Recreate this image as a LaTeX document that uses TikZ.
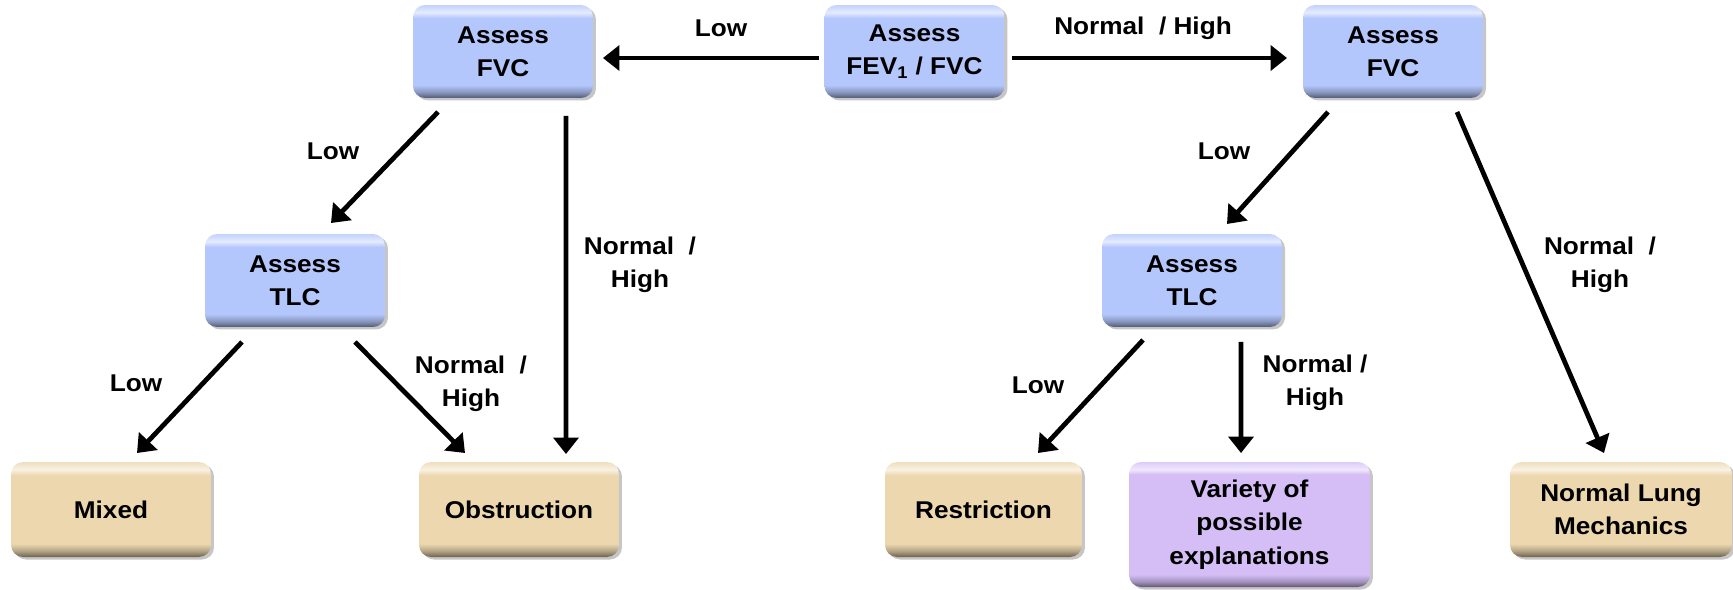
\documentclass[tikz,border=0pt]{standalone}
\usepackage{fontspec}
\setmainfont[FakeStretch=1.08]{Liberation Sans}
\usetikzlibrary{arrows.meta,shadows}

\definecolor{assessblue}{RGB}{180,199,252}
\definecolor{resulttan}{RGB}{236,215,175}
\definecolor{othviolet}{RGB}{212,190,245}

% bevel look: dark lower rim, flat face, light upper rim
\pgfdeclareverticalshading{bevelblue}{100bp}{color(0bp)=(assessblue!45!black); color(25bp)=(assessblue!45!black); color(28bp)=(assessblue!75!black); color(32bp)=(assessblue); color(68bp)=(assessblue); color(71bp)=(assessblue!35!white); color(75bp)=(assessblue!80!white); color(100bp)=(assessblue!80!white)}
\pgfdeclareverticalshading{beveltan}{100bp}{color(0bp)=(resulttan!45!black); color(25bp)=(resulttan!45!black); color(28bp)=(resulttan!75!black); color(32bp)=(resulttan); color(68bp)=(resulttan); color(71bp)=(resulttan!35!white); color(75bp)=(resulttan!80!white); color(100bp)=(resulttan!80!white)}
\pgfdeclareverticalshading{bevelviolet}{100bp}{color(0bp)=(othviolet!45!black); color(25bp)=(othviolet!45!black); color(27bp)=(othviolet!75!black); color(30bp)=(othviolet); color(70bp)=(othviolet); color(72bp)=(othviolet!35!white); color(75bp)=(othviolet!80!white); color(100bp)=(othviolet!80!white)}

\tikzset{
	box/.style={rounded corners=0.24cm, align=center, inner sep=2pt, outer sep=0pt,
		drop shadow={shadow xshift=0.06cm, shadow yshift=-0.05cm, opacity=0.45}},
	assess/.style={box, shading=bevelblue, minimum width=3.6cm, minimum height=1.86cm},
	result/.style={box, shading=beveltan, minimum width=4cm, minimum height=1.9cm},
	other/.style={box, shading=bevelviolet, minimum width=4.82cm, minimum height=2.5cm},
	lbl/.style={align=center},
	conn/.style={line width=0.095cm, -{Triangle[length=0.33cm,width=0.5cm]}},
}

\begin{document}
\begin{tikzpicture}[x=0.02cm, y=-0.02cm, every node/.style={font=\fontsize{13.8}{19}\selectfont\bfseries}]
	\useasboundingbox (0,0) rectangle (1733,589);
	% boxes
	\node[assess] (fev) at (914.5,51.5) {Assess\\FEV\textsubscript{1} / FVC};
	\node[assess] (fvcL) at (503,51.5) {Assess\\FVC};
	\node[assess] (fvcR) at (1393,51.5) {Assess\\FVC};
	\node[assess] (tlcL) at (295,280.5) {Assess\\TLC};
	\node[assess] (tlcR) at (1192,280.5) {Assess\\TLC};
	\node[result] (mixed) at (111,509.5) {Mixed};
	\node[result] (obstr) at (519,509.5) {Obstruction};
	\node[result, minimum width=3.94cm] (restr) at (983.5,509.5) {Restriction};
	\node[other] (variety) at (1249.5,524.5) {Variety of\\possible\\explanations};
	\node[result, minimum width=4.44cm] (normal) at (1621,509.5) {Normal Lung\\Mechanics};
	% connectors
	\draw[conn] ([xshift=-0.11cm,yshift=-0.13cm]fev.west) -- ([xshift=0.2cm,yshift=-0.13cm]fvcL.east);
	\draw[conn] ([xshift=0.15cm,yshift=-0.13cm]fev.east) -- ([xshift=-0.32cm,yshift=-0.13cm]fvcR.west);
	\draw[conn] ([xshift=-1.3cm,yshift=-0.28cm]fvcL.south) -- ([xshift=0.72cm,yshift=0.22cm]tlcL.north);
	\draw[conn] ([xshift=1.26cm,yshift=-0.36cm]fvcL.south) -- ([xshift=0.94cm,yshift=0.16cm]obstr.north);
	\draw[conn] ([xshift=-1.3cm,yshift=-0.28cm]fvcR.south) -- ([xshift=0.7cm,yshift=0.2cm]tlcR.north);
	\draw[conn] ([xshift=1.28cm,yshift=-0.28cm]fvcR.south) -- ([xshift=-0.34cm,yshift=0.18cm]normal.north);
	\draw[conn] ([xshift=-1.06cm,yshift=-0.3cm]tlcL.south) -- ([xshift=0.52cm,yshift=0.18cm]mixed.north);
	\draw[conn] ([xshift=1.2cm,yshift=-0.3cm]tlcL.south) -- ([xshift=-1.08cm,yshift=0.18cm]obstr.north);
	\draw[conn] ([xshift=-0.98cm,yshift=-0.26cm]tlcR.south) -- ([xshift=1.09cm,yshift=0.18cm]restr.north);
	\draw[conn] ([xshift=0.98cm,yshift=-0.3cm]tlcR.south) -- ([xshift=-0.17cm,yshift=0.18cm]variety.north);
	% labels
	\node[lbl] (lowTop) at (721,28) {Low};
	\node[lbl] (nhTop) at (1143,28) {Normal\ \ / High};
	\node[lbl] (lowA) at (333,151) {Low};
	\node[lbl] (nhA) at (640,265) {Normal\ \ /\\High};
	\node[lbl] (lowB) at (136,383) {Low};
	\node[lbl] (nhB) at (471,384) {Normal\ \ /\\High};
	\node[lbl] (lowC) at (1224,151) {Low};
	\node[lbl] (nhC) at (1600,265) {Normal\ \ /\\High};
	\node[lbl] (lowD) at (1038,385) {Low};
	\node[lbl] (nhD) at (1315,383) {Normal /\\High};
\end{tikzpicture}
\end{document}
